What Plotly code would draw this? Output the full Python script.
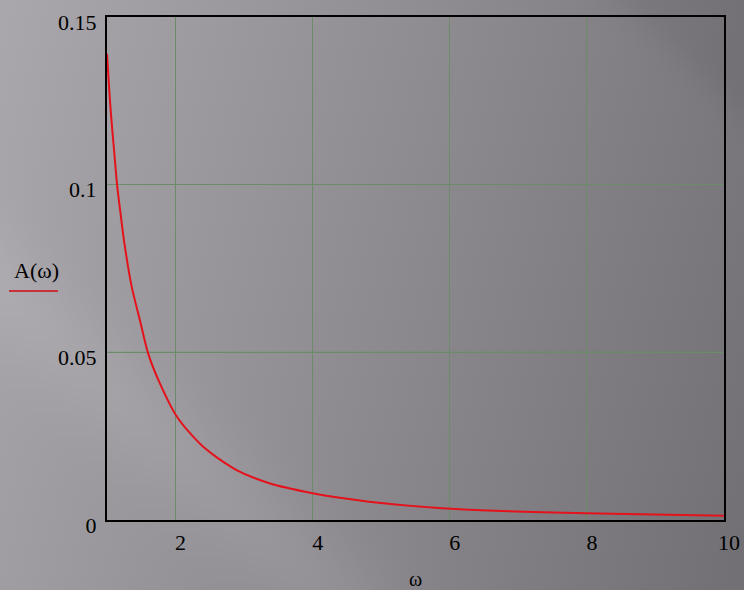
import base64, struct, zlib
import numpy as np
import plotly.graph_objects as go

# ---- data ----
omega = [1.0, 1.04, 1.07, 1.10, 1.15, 1.20, 1.25, 1.36, 1.48, 1.60, 1.77, 2.02,
         2.40, 2.89, 3.38, 4.0, 4.45, 5.17, 6.15, 7.36, 8.58, 10.0]
A_vals = [0.139, 0.126, 0.118, 0.111, 0.0994, 0.091, 0.083, 0.0696, 0.0596,
          0.0497, 0.0408, 0.0308, 0.0219, 0.0149, 0.0109, 0.0080, 0.0065,
          0.0047, 0.0032, 0.0023, 0.0018, 0.0013]
x_ticks = [2, 4, 6, 8, 10]
x_ticktext = ["2", "4", "6", "8", "10"]
y_ticks = [0, 0.05, 0.1, 0.15]
y_ticktext = ["0", "0.05", "0.1", "0.15"]

# ---- layout geometry ----
W, H = 744, 590
ML, MR, MT, MB = 107, 20, 17, 70
PW, PH = W - ML - MR, H - MT - MB


def px2paper(px, py):
    return (px - ML) / PW, 1 - (py - MT) / PH


# ---- background gradient image (style only) ----
def make_bg(w=186, h=148):
    ys, xs = np.mgrid[0:h, 0:w].astype(float)
    X = xs / (w - 1) * W
    Y = ys / (h - 1) * H
    v = 170 - 46 * (X / W) - 10 * (Y / H)
    d1 = (X - 100) * 0.94 - (Y - 440) * 1.0
    v += 8 * np.exp(-((d1 - 60) / 70) ** 2)
    d2 = (X - 620) * 0.9 - (Y - 0) * 1.0
    v -= 8 / (1 + np.exp(-d2 / 12))
    v = np.clip(v, 0, 255)
    rgb = np.stack([v, v - 2, v + 3], axis=-1).clip(0, 255).astype(np.uint8)
    raw = b"".join(b"\x00" + row.tobytes() for row in rgb)

    def chunk(t, d):
        c = struct.pack(">I", len(d)) + t + d
        return c + struct.pack(">I", zlib.crc32(t + d) & 0xFFFFFFFF)

    png = b"\x89PNG\r\n\x1a\n" + chunk(b"IHDR", struct.pack(">IIBBBBB", w, h, 8, 2, 0, 0, 0)) \
        + chunk(b"IDAT", zlib.compress(raw, 9)) + chunk(b"IEND", b"")
    return "data:image/png;base64," + base64.b64encode(png).decode()


font = dict(family="Liberation Serif, Times New Roman, serif", size=22, color="black")

fig = go.Figure()
fig.add_trace(go.Scatter(x=omega, y=A_vals, mode="lines",
                         line=dict(color="#e5121b", width=2, shape="spline", smoothing=0.8),
                         showlegend=False, hoverinfo="skip"))

fig.update_layout(
    width=W, height=H,
    margin=dict(l=ML, r=MR, t=MT, b=MB),
    paper_bgcolor="#8c8b90",
    plot_bgcolor="rgba(0,0,0,0)",
    font=font,
    showlegend=False,
    images=[dict(source=make_bg(), xref="paper", yref="paper",
                 x=-ML / PW, y=1 + MT / PH, sizex=W / PW, sizey=H / PH,
                 xanchor="left", yanchor="top", sizing="stretch", layer="below")],
    xaxis=dict(range=[1, 10], tickvals=x_ticks, ticktext=x_ticktext,
               showgrid=True, gridcolor="#6d8a6d", gridwidth=1,
               showline=True, linecolor="black", linewidth=2, mirror=True,
               zeroline=False, ticks="", ticklabelstandoff=2, ticklabelshift=5,
               title=dict(text="ω", font=dict(size=20), standoff=20),
               tickfont=font, automargin=False),
    yaxis=dict(range=[0, 0.15], tickvals=y_ticks, ticktext=y_ticktext,
               showgrid=True, gridcolor="#6d8a6d", gridwidth=1,
               showline=True, linecolor="black", linewidth=2, mirror=True,
               zeroline=False, ticks="", ticklabelstandoff=4, ticklabelshift=5,
               tickfont=font, automargin=False),
)

fig.add_shape(type="line", xref="paper", yref="y", x0=0, x1=1, y0=0.05, y1=0.05,
              line=dict(color="#4e9a48", width=1), layer="below")

lx, ly = px2paper(36, 270)
fig.add_annotation(text="A(ω)", xref="paper", yref="paper", x=lx, y=ly,
                   showarrow=False, font=font, xanchor="center", yanchor="middle")
ux0, uy = px2paper(9, 291)
ux1, _ = px2paper(58, 291)
fig.add_shape(type="line", xref="paper", yref="paper", x0=ux0, x1=ux1, y0=uy, y1=uy,
              line=dict(color="#c8303a", width=2))

fig.write_html("out.html", config={"displayModeBar": False},
               post_script="document.body.style.margin='0';")
